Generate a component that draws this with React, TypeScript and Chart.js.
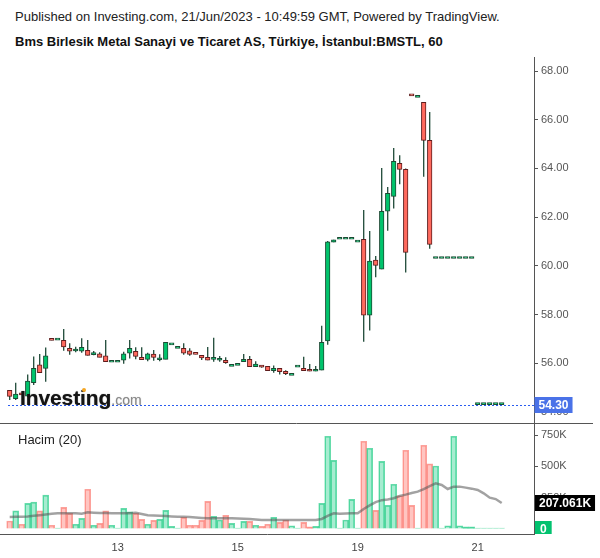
import React, { useEffect, useRef } from 'react';
import { Chart, registerables } from 'chart.js';

Chart.register(...registerables);

// ---------- data ----------
const OPEN = [
  54.89, 54.54, 54.71, 54.65, 55.20, 55.93, 55.79, 56.95, 56.95, 56.94,
  56.61, 56.50, 56.49, 56.53, 56.35, 56.38, 56.30, 56.04, 56.04, 56.12,
  56.41, 56.49, 56.24, 56.16, 56.37, 56.14, 56.16, 56.75, 56.61, 56.61,
  56.51, 56.37, 56.32, 56.24, 56.16, 56.12, 56.12, 55.87, 55.91, 56.06,
  56.16, 55.86, 55.91, 55.87, 55.69, 55.79, 55.67, 55.50, 55.84, 55.79,
  55.72, 55.67, 55.71, 56.92, 60.97, 61.09, 61.09, 61.09, 60.97, 61.09,
  57.97, 60.23, 59.86, 62.24, 62.85, 64.21, 63.96, 67.00, 66.92, 66.71,
  65.15, 60.30, 60.30, 60.30, 60.30, 60.30, 60.30, 60.30, 54.30, 54.30,
  54.30, 54.30, 54.30,
];
const HIGH = [
  54.89, 55.20, 54.71, 55.54, 56.27, 56.38, 56.64, 56.95, 56.95, 57.40,
  56.82, 56.68, 57.02, 56.95, 56.50, 56.45, 56.95, 56.04, 56.04, 56.47,
  56.95, 56.65, 56.65, 56.43, 56.54, 56.37, 56.86, 56.75, 56.61, 56.82,
  56.61, 56.37, 56.32, 56.67, 57.04, 56.30, 56.24, 55.87, 55.91, 56.38,
  56.30, 56.08, 55.91, 55.87, 55.91, 55.79, 55.71, 55.50, 55.84, 56.26,
  55.97, 55.89, 57.54, 61.02, 61.07, 61.09, 61.09, 61.09, 60.97, 62.29,
  61.43, 60.40, 64.02, 63.24, 64.84, 64.54, 64.00, 67.00, 66.92, 66.71,
  66.32, 60.30, 60.30, 60.30, 60.30, 60.30, 60.30, 60.30, 54.30, 54.30,
  54.30, 54.30, 54.30,
];
const LOW = [
  54.49, 54.49, 54.70, 54.60, 55.10, 55.61, 55.24, 56.94, 56.95, 56.51,
  56.35, 56.45, 56.43, 56.32, 56.33, 56.24, 56.06, 56.04, 56.04, 55.98,
  56.19, 56.16, 56.14, 56.08, 56.10, 56.08, 56.16, 56.75, 56.61, 56.35,
  56.31, 56.36, 56.13, 56.12, 56.06, 56.06, 55.98, 55.87, 55.91, 56.06,
  55.86, 55.84, 55.81, 55.69, 55.61, 55.54, 55.52, 55.50, 55.84, 55.69,
  55.67, 55.67, 55.71, 56.76, 60.97, 61.09, 61.09, 61.09, 60.97, 56.88,
  57.34, 59.53, 59.86, 61.44, 62.35, 63.35, 59.72, 66.98, 66.92, 63.66,
  60.70, 60.30, 60.30, 60.30, 60.30, 60.30, 60.30, 60.30, 54.30, 54.30,
  54.30, 54.30, 54.30,
];
const CLOSE = [
  54.64, 54.73, 54.70, 55.27, 55.79, 55.61, 56.30, 56.94, 56.95, 56.67,
  56.49, 56.52, 56.65, 56.32, 56.36, 56.24, 56.06, 56.04, 56.04, 56.38,
  56.61, 56.28, 56.14, 56.38, 56.24, 56.15, 56.86, 56.75, 56.61, 56.41,
  56.36, 56.36, 56.22, 56.12, 56.17, 56.13, 56.02, 55.87, 55.91, 56.16,
  55.86, 55.96, 55.84, 55.69, 55.79, 55.65, 55.57, 55.50, 55.84, 55.69,
  55.67, 55.72, 56.86, 60.98, 61.07, 61.09, 61.09, 61.09, 60.97, 57.97,
  60.19, 60.02, 62.24, 62.98, 64.29, 63.96, 60.55, 66.98, 66.92, 65.15,
  60.88, 60.30, 60.30, 60.30, 60.30, 60.30, 60.30, 60.30, 54.30, 54.30,
  54.30, 54.30, 54.30,
];
// volume in thousands
const VOLUME_K = [
  64, 144, 38, 205, 215, 144, 270, 30, 3, 173,
  125, 38, 85, 317, 30, 45, 144, 30, 2, 165,
  136, 125, 77, 38, 69, 77, 149, 21, 2, 93,
  30, 30, 69, 221, 101, 72, 109, 45, 2, 61,
  61, 30, 21, 38, 93, 53, 72, 26, 2, 53,
  18, 21, 205, 740, 548, 5, 72, 237, 2, 700,
  644, 149, 540, 189, 357, 265, 628, 189, 3, 668,
  519, 503, 4, 26, 740, 26, 18, 18, 3, 2,
  2, 2, 2,
];
// 20-period volume average, thousands
const VOLUME_MA_K = [
  96, 97, 98, 100, 105, 110, 116, 122, 125, 125,
  125, 125, 122, 133, 130, 128, 127, 126, 125, 125,
  126, 130, 120, 110, 108, 105, 103, 100, 98, 97,
  95, 92, 88, 85, 85, 85, 85, 85, 84, 82,
  80, 76, 72, 72, 72, 72, 72, 72, 72, 72,
  72, 72, 80, 105, 125, 122, 123, 125, 125, 160,
  188, 215, 230, 235, 245, 263, 274, 287, 298, 319,
  343, 365, 351, 319, 338, 338, 330, 322, 311, 285,
  250, 239, 207.061,
];
const DAY_TICK_INDEX = [18, 38, 58, 78];
const DAY_TICK_LABELS = ['13', '15', '19', '21'];
const PRICE_TICKS = [54, 56, 58, 60, 62, 64, 66, 68];
const VOLUME_TICKS_K = [0, 250, 500, 750];
const LAST_PRICE = 54.3;
const LAST_MA_LABEL = '207.061K';

// ---------- view constants ----------
const FONT = '"Liberation Sans", Arial, Helvetica, sans-serif';
const X_MIN = -9.7 / 6;
const X_MAX = X_MIN + 534 / 6;
const AXIS_W = 66;
const UP_FILL = '#00c46c';
const UP_BORDER = '#1b4a33';
const DOWN_FILL = '#ff6a5e';
const DOWN_BORDER = '#5e1c1c';
const WICK = '#1f4a38';

function drawTag(ctx: CanvasRenderingContext2D, text: string, y: number, x: number, bg: string, padX: number) {
  ctx.save();
  ctx.font = 'bold 12px ' + FONT;
  const w = ctx.measureText(text).width + padX * 2;
  ctx.fillStyle = bg;
  ctx.fillRect(x, Math.round(y) - 8, w, 16);
  ctx.fillStyle = '#ffffff';
  ctx.textBaseline = 'middle';
  ctx.textAlign = 'left';
  ctx.fillText(text, x + padX, Math.round(y) + 0.5);
  ctx.restore();
}

export default function App() {
  const priceRef = useRef<HTMLCanvasElement>(null);
  const volRef = useRef<HTMLCanvasElement>(null);

  useEffect(() => {
    const idx = OPEN.map((_, i) => i);
    const isUp = idx.map((i) => CLOSE[i] >= OPEN[i]);

    const priceTagPlugin = {
      id: 'priceTag',
      beforeDatasetsDraw(chart: any) {
        const ctx = chart.ctx;
        const y = Math.round(chart.scales.y.getPixelForValue(LAST_PRICE)) + 0.5;
        ctx.save();
        ctx.strokeStyle = '#2a5cf0';
        ctx.lineWidth = 1;
        ctx.setLineDash([2, 2]);
        ctx.beginPath();
        ctx.moveTo(chart.chartArea.left + 8, y);
        ctx.lineTo(chart.chartArea.right, y);
        ctx.stroke();
        ctx.restore();
      },
      afterDraw(chart: any) {
        const y = chart.scales.y.getPixelForValue(LAST_PRICE);
        drawTag(chart.ctx, LAST_PRICE.toFixed(2), y, chart.chartArea.right + 0.5, '#4a72e8', 4);
      },
    };

    const pc = new Chart(priceRef.current as HTMLCanvasElement, {
      type: 'bar',
      data: {
        datasets: [
          {
            type: 'bar',
            label: 'body',
            data: idx.map((i) => ({ x: i, y: [OPEN[i], CLOSE[i]] })) as any,
            backgroundColor: idx.map((i) => (isUp[i] ? UP_FILL : DOWN_FILL)),
            borderColor: idx.map((i) => (isUp[i] ? UP_BORDER : DOWN_BORDER)),
            borderWidth: 1,
            borderSkipped: false,
            barThickness: 4.6,
            minBarLength: 2,
            grouped: false,
            order: 0,
          } as any,
          {
            type: 'bar',
            label: 'wick',
            data: idx.map((i) => ({ x: i, y: [LOW[i], HIGH[i]] })) as any,
            backgroundColor: WICK,
            borderWidth: 0,
            barThickness: 1.3,
            inflateAmount: 0,
            grouped: false,
            order: 1,
          } as any,
        ],
      },
      options: {
        animation: false,
        responsive: false,
        devicePixelRatio: 1,
        layout: { padding: { top: 57, bottom: 16, left: 0, right: 0 } },
        plugins: { legend: { display: false }, tooltip: { enabled: false } },
        scales: {
          x: { type: 'linear', min: X_MIN, max: X_MAX, display: false, offset: false },
          y: {
            type: 'linear',
            position: 'right',
            min: 53.503,
            max: 68.575,
            afterBuildTicks: (s: any) => {
              s.ticks = PRICE_TICKS.map((v) => ({ value: v }));
            },
            afterFit: (s: any) => {
              s.width = AXIS_W;
            },
            ticks: {
              callback: (v: any) => Number(v).toFixed(2),
              font: { family: FONT, size: 11 },
              color: '#555555',
              padding: 3,
            },
            grid: { drawOnChartArea: false, drawTicks: true, tickLength: 4, color: '#555555' },
            border: { display: true, color: '#555555' },
          },
        },
      } as any,
      plugins: [priceTagPlugin],
    });

    const volTagPlugin = {
      id: 'volTag',
      afterDraw(chart: any) {
        const ctx = chart.ctx;
        const ca = chart.chartArea;
        ctx.save();
        ctx.strokeStyle = '#555555';
        ctx.lineWidth = 1;
        ctx.beginPath();
        ctx.moveTo(0, ca.top - 0.5);
        ctx.lineTo(593, ca.top - 0.5);
        ctx.stroke();
        ctx.restore();
        const yv = chart.scales.yv;
        drawTag(ctx, LAST_MA_LABEL, yv.getPixelForValue(VOLUME_MA_K[VOLUME_MA_K.length - 1] * 1000), ca.right + 1, '#000000', 4);
        ctx.save();
        ctx.beginPath();
        ctx.rect(ca.right, ca.top, 70, ca.bottom - ca.top);
        ctx.clip();
        drawTag(ctx, '0', yv.getPixelForValue(0), ca.right + 1, '#02c26f', 5);
        ctx.restore();
      },
    };

    const vc = new Chart(volRef.current as HTMLCanvasElement, {
      type: 'bar',
      data: {
        datasets: [
          {
            type: 'line',
            label: 'Hacim MA',
            data: idx.map((i) => ({ x: i, y: VOLUME_MA_K[i] * 1000 })),
            borderColor: 'rgba(85,85,85,0.55)',
            borderWidth: 2.5,
            pointRadius: 0,
            tension: 0,
            yAxisID: 'yv',
            order: 0,
          } as any,
          {
            type: 'bar',
            label: 'Hacim',
            data: idx.map((i) => ({ x: i, y: VOLUME_K[i] * 1000 })),
            backgroundColor: idx.map((i) => (isUp[i] ? 'rgba(0,200,120,0.35)' : 'rgba(255,110,100,0.4)')),
            borderColor: idx.map((i) => (isUp[i] ? 'rgba(0,195,115,0.6)' : 'rgba(250,100,90,0.6)')),
            borderWidth: 1,
            barThickness: 6,
            minBarLength: 1,
            grouped: false,
            yAxisID: 'yv',
            order: 1,
          } as any,
        ],
      },
      options: {
        animation: false,
        responsive: false,
        devicePixelRatio: 1,
        layout: { padding: { top: 14, bottom: 0, left: 0, right: 0 } },
        plugins: { legend: { display: false }, tooltip: { enabled: false } },
        scales: {
          x: {
            type: 'linear',
            min: X_MIN,
            max: X_MAX,
            offset: false,
            afterBuildTicks: (s: any) => {
              s.ticks = DAY_TICK_INDEX.map((v) => ({ value: v }));
            },
            afterFit: (s: any) => {
              s.height = 24;
            },
            ticks: {
              autoSkip: false,
              maxRotation: 0,
              callback: (v: any) => DAY_TICK_LABELS[DAY_TICK_INDEX.indexOf(Number(v))],
              font: { family: FONT, size: 11 },
              color: '#444444',
              padding: 7,
            },
            grid: { drawOnChartArea: false, drawTicks: false, color: '#555555' },
            border: { display: true, color: '#555555' },
          },
          yv: {
            type: 'linear',
            position: 'right',
            min: -39900,
            max: 837800,
            afterBuildTicks: (s: any) => {
              s.ticks = VOLUME_TICKS_K.map((v) => ({ value: v * 1000 }));
            },
            afterFit: (s: any) => {
              s.width = AXIS_W;
            },
            ticks: {
              callback: (v: any) => (Number(v) === 0 ? '0' : Number(v) / 1000 + 'K'),
              font: { family: FONT, size: 11 },
              color: '#555555',
              padding: 3,
            },
            grid: { drawOnChartArea: false, drawTicks: true, tickLength: 4, color: '#555555' },
            border: { display: true, color: '#555555' },
          },
        },
      } as any,
      plugins: [volTagPlugin],
    });

    return () => {
      pc.destroy();
      vc.destroy();
    };
  }, []);

  return (
    <div
      style={{
        position: 'absolute',
        left: 0,
        top: 0,
        width: 600,
        height: 558,
        background: '#ffffff',
        overflow: 'hidden',
        fontFamily: FONT,
      }}
    >
      <div style={{ position: 'absolute', left: 15, top: 9, fontSize: 13, lineHeight: '16px', color: '#222', whiteSpace: 'nowrap' }}>
        Published on Investing.com, 21/Jun/2023 - 10:49:59 GMT, Powered by TradingView.
      </div>
      <div style={{ position: 'absolute', left: 15, top: 34, fontSize: 13, lineHeight: '16px', fontWeight: 'bold', color: '#111', whiteSpace: 'nowrap' }}>
        Bms Birlesik Metal Sanayi ve Ticaret AS, Türkiye, İstanbul:BMSTL, 60
      </div>
      <canvas ref={volRef} width={600} height={148} style={{ position: 'absolute', left: 0, top: 410 }} />
      <canvas ref={priceRef} width={600} height={440} style={{ position: 'absolute', left: 0, top: 0 }} />
      <div style={{ position: 'absolute', left: 20, top: 387, whiteSpace: 'nowrap', lineHeight: '21px' }}>
        <span
          style={{
            fontSize: 21,
            fontWeight: 'bold',
            color: '#141414',
            letterSpacing: '-0.1px',
            textShadow: '0 0 1px rgba(0,0,0,0.6)',
          }}
        >
          Investing
        </span>
        <span style={{ fontSize: 14, color: '#8a8a8a', textShadow: '0 0 1px rgba(120,120,120,0.5)' }}>.com</span>
      </div>
      <div style={{ position: 'absolute', left: 82, top: 388, width: 4, height: 4, borderRadius: 2, background: '#f5a623' }} />
      <div style={{ position: 'absolute', left: 18, top: 432, fontSize: 13, lineHeight: '16px', color: '#222', whiteSpace: 'nowrap' }}>
        Hacim (20)
      </div>
    </div>
  );
}
